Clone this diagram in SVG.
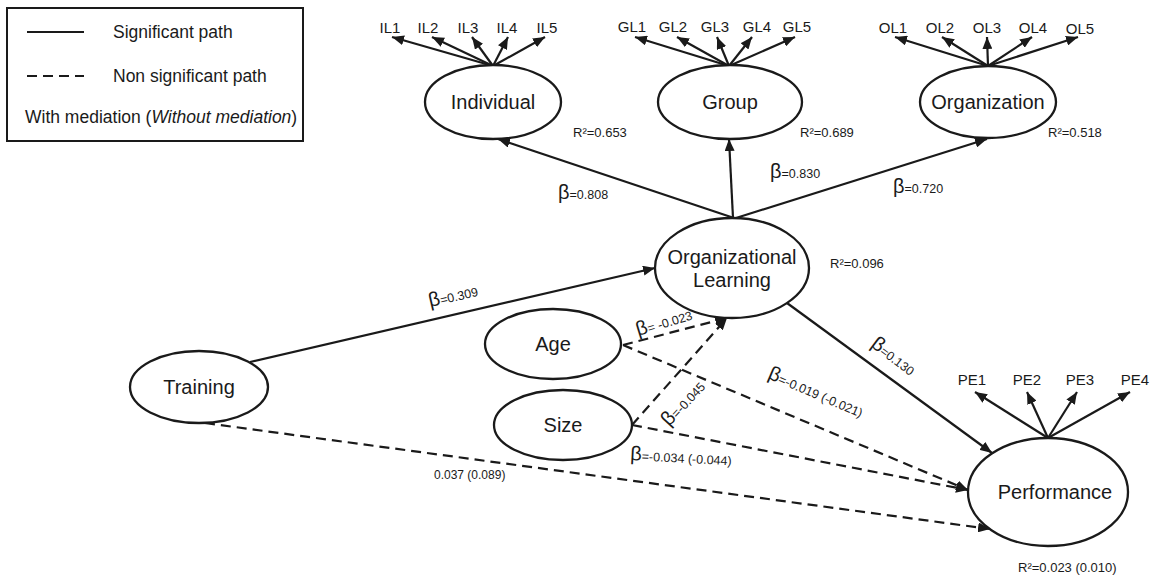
<svg xmlns="http://www.w3.org/2000/svg" width="1153" height="577" viewBox="0 0 1153 577">
<defs>
<marker id="ah" markerUnits="userSpaceOnUse" markerWidth="13" markerHeight="10" refX="12" refY="5" orient="auto">
<path d="M0,0 L12,5 L0,10 z" fill="#1a1a1a"/>
</marker>
<style>
.n{fill:#fff;stroke:#1a1a1a;stroke-width:2.3}
.t{font-family:"Liberation Sans",Arial,sans-serif;fill:#1a1a1a}
.nt{font-size:20px;text-anchor:middle}
.ind{font-size:15px;text-anchor:middle}
.sm{font-size:12.5px}
.b{font-size:20px}
.s{stroke:#1a1a1a;stroke-width:2.2;fill:none}
.d{stroke:#1a1a1a;stroke-width:2.2;fill:none;stroke-dasharray:10 6}
.a{marker-end:url(#ah)}
</style>
</defs>
<rect width="1153" height="577" fill="#fff"/>

<g id="legend">
<rect x="7" y="8" width="296" height="133" fill="#fff" stroke="#1a1a1a" stroke-width="2"/>
<line x1="27" y1="32" x2="84" y2="32" class="s"/>
<text x="113" y="38" class="t" font-size="17.5">Significant path</text>
<line x1="27" y1="76" x2="84" y2="76" class="d"/>
<text x="113" y="82" class="t" font-size="17.5">Non significant path</text>
<text x="25" y="123" class="t" font-size="17.5">With mediation (<tspan font-style="italic">Without mediation</tspan>)</text>
</g>

<g id="connectors">
<line x1="493" y1="66" x2="392" y2="37" class="s a"/>
<line x1="493" y1="66" x2="432" y2="37" class="s a"/>
<line x1="493" y1="66" x2="472" y2="37" class="s a"/>
<line x1="493" y1="66" x2="508" y2="37" class="s a"/>
<line x1="493" y1="66" x2="545" y2="37" class="s a"/>
<line x1="729" y1="66" x2="635" y2="37" class="s a"/>
<line x1="729" y1="66" x2="677" y2="37" class="s a"/>
<line x1="729" y1="66" x2="717" y2="37" class="s a"/>
<line x1="729" y1="66" x2="752" y2="37" class="s a"/>
<line x1="729" y1="66" x2="795" y2="37" class="s a"/>
<line x1="988" y1="66" x2="895" y2="37" class="s a"/>
<line x1="988" y1="66" x2="942" y2="37" class="s a"/>
<line x1="988" y1="66" x2="987" y2="37" class="s a"/>
<line x1="988" y1="66" x2="1032" y2="37" class="s a"/>
<line x1="988" y1="66" x2="1078" y2="37" class="s a"/>
<line x1="1048" y1="438" x2="975" y2="392" class="s a"/>
<line x1="1048" y1="438" x2="1027" y2="392" class="s a"/>
<line x1="1048" y1="438" x2="1077" y2="392" class="s a"/>
<line x1="1048" y1="438" x2="1130" y2="392" class="s a"/>
<line x1="734" y1="218" x2="498" y2="139" class="s a"/>
<line x1="733" y1="218" x2="729" y2="139" class="s a"/>
<line x1="736" y1="218" x2="987" y2="139" class="s a"/>
<line x1="250" y1="362" x2="655" y2="268" class="s a"/>
<line x1="787" y1="303" x2="992" y2="453" class="s a"/>
<line x1="623" y1="345" x2="727" y2="318" class="d a"/>
<line x1="632" y1="425" x2="727" y2="318" class="d a"/>
<line x1="623" y1="345" x2="968" y2="490" class="d a"/>
<line x1="632" y1="425" x2="968" y2="490" class="d a"/>
<line x1="205" y1="423" x2="990" y2="529" class="d a"/>
</g>

<g id="individual">
<ellipse cx="493" cy="102" rx="68" ry="37" class="n"/>
<text x="493" y="109" class="t nt">Individual</text>
<text x="390" y="33" class="t ind">IL1</text>
<text x="428" y="33" class="t ind">IL2</text>
<text x="468" y="33" class="t ind">IL3</text>
<text x="507" y="33" class="t ind">IL4</text>
<text x="547" y="33" class="t ind">IL5</text>
<text x="573" y="137" class="t" font-size="13px">R²=0.653</text>
</g>

<g id="group">
<ellipse cx="730" cy="102" rx="72" ry="37" class="n"/>
<text x="730" y="109" class="t nt">Group</text>
<text x="632" y="32" class="t ind">GL1</text>
<text x="673" y="32" class="t ind">GL2</text>
<text x="715" y="32" class="t ind">GL3</text>
<text x="757" y="32" class="t ind">GL4</text>
<text x="797" y="32" class="t ind">GL5</text>
<text x="800" y="137" class="t" font-size="13px">R²=0.689</text>
</g>

<g id="organization">
<ellipse cx="988" cy="102" rx="68" ry="36" class="n"/>
<text x="988" y="109" class="t nt">Organization</text>
<text x="893" y="33" class="t ind">OL1</text>
<text x="940" y="33" class="t ind">OL2</text>
<text x="987" y="33" class="t ind">OL3</text>
<text x="1033" y="33" class="t ind">OL4</text>
<text x="1080" y="34" class="t ind">OL5</text>
<text x="1048" y="137" class="t" font-size="13px">R²=0.518</text>
</g>

<g id="organizational-learning">
<ellipse cx="732" cy="268" rx="77" ry="50" class="n"/>
<text x="732" y="264" class="t nt">Organizational</text>
<text x="732" y="287" class="t nt">Learning</text>
<text x="830" y="268" class="t" font-size="13px">R²=0.096</text>
</g>

<g id="training">
<ellipse cx="199" cy="387" rx="69" ry="36" class="n"/>
<text x="199" y="394" class="t nt">Training</text>
</g>

<g id="age">
<ellipse cx="553" cy="344" rx="68" ry="35" class="n"/>
<text x="553" y="351" class="t nt">Age</text>
</g>

<g id="size">
<ellipse cx="563" cy="425" rx="69" ry="35" class="n"/>
<text x="563" y="432" class="t nt">Size</text>
</g>

<g id="performance">
<ellipse cx="1048" cy="492" rx="80" ry="54" class="n"/>
<text x="1055" y="499" class="t nt">Performance</text>
<text x="972" y="385" class="t ind">PE1</text>
<text x="1027" y="385" class="t ind">PE2</text>
<text x="1080" y="385" class="t ind">PE3</text>
<text x="1135" y="385" class="t ind">PE4</text>
<text x="1018" y="572" class="t" font-size="13px">R²=0.023 (0.010)</text>
</g>

<g id="labels">
<text x="558" y="199" class="t sm"><tspan class="b">β</tspan>=0.808</text>
<text x="770" y="178" class="t sm"><tspan class="b">β</tspan>=0.830</text>
<text x="893" y="193" class="t sm"><tspan class="b">β</tspan>=0.720</text>
<text transform="translate(430,307) rotate(-13)" class="t sm"><tspan class="b">β</tspan>=0.309</text>
<text transform="translate(638,336) rotate(-17)" class="t sm"><tspan class="b">β</tspan>= -0.023</text>
<text transform="translate(669,427) rotate(-47)" class="t sm"><tspan class="b">β</tspan>=-0.045</text>
<text transform="translate(767,378) rotate(23)" class="t sm"><tspan class="b">β</tspan>=-0.019 (-0.021)</text>
<text transform="translate(870,346) rotate(37)" class="t sm"><tspan class="b">β</tspan>=0.130</text>
<text transform="translate(630,460) rotate(3)" class="t sm"><tspan class="b">β</tspan>=-0.034 (-0.044)</text>
<text x="434" y="479" class="t" font-size="12px">0.037 (0.089)</text>
</g>
</svg>
